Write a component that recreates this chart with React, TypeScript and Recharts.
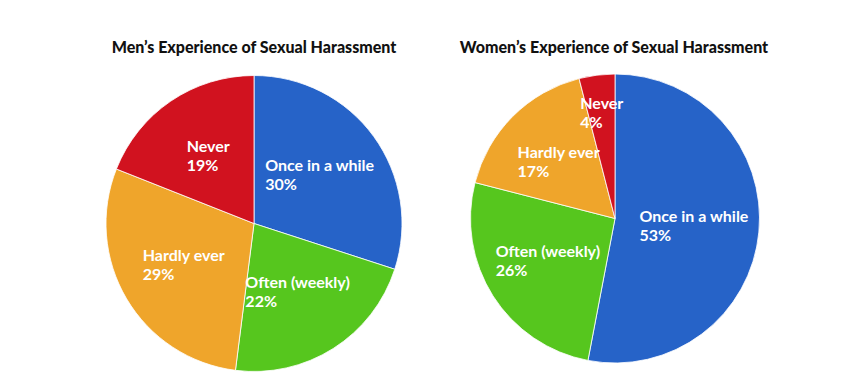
import { PieChart, Pie, Cell } from 'recharts';

const categories = ['Once in a while', 'Often (weekly)', 'Hardly ever', 'Never'];
const menValues = [30, 22, 29, 19];
const womenValues = [53, 26, 17, 4];
const colors = ['#2663c8', '#56c61e', '#efa52b', '#d1121f'];
const titles = [
  "Men’s Experience of Sexual Harassment",
  "Women’s Experience of Sexual Harassment",
];

const menData = categories.map((name, i) => ({ name, value: menValues[i] }));
const womenData = categories.map((name, i) => ({ name, value: womenValues[i] }));

const LABEL_SIZE = 16;
const LABEL_FONT = `bold ${LABEL_SIZE}px Lato`;
const RAD = Math.PI / 180;

let ctx: CanvasRenderingContext2D | null = null;
function textWidth(s: string) {
  if (!ctx) ctx = document.createElement('canvas').getContext('2d');
  if (!ctx) return s.length * 7.5;
  ctx.font = LABEL_FONT;
  return ctx.measureText(s).width;
}

function renderLabel(props: any) {
  const { cx, cy, midAngle, outerRadius, name, value } = props;
  // small slices get pushed outwards, like the original
  const r = outerRadius * (value < 10 ? 0.73 : 0.55);
  const x = cx + r * Math.cos(-midAngle * RAD);
  const y = cy + r * Math.sin(-midAngle * RAD);
  const left = x - textWidth(name) / 2;
  return (
    <text
      x={left}
      y={y - 10}
      fill='#fff'
      fontFamily='Lato'
      fontWeight={700}
      fontSize={LABEL_SIZE}
      textAnchor='start'
    >
      <tspan x={left} dy='0.35em'>{name}</tspan>
      <tspan x={left} dy={19}>{value}%</tspan>
    </text>
  );
}

const titleStyle = (left: number): React.CSSProperties => ({
  position: 'absolute',
  left,
  top: 37,
  width: 400,
  textAlign: 'center',
  fontFamily: 'Lato',
  fontWeight: 900,
  fontSize: 16,
  lineHeight: '20px',
  color: '#111',
});

export default function App() {
  return (
    <div style={{ position: 'absolute', left: 0, top: 0, width: 845, height: 385, background: '#fff' }}>
      <div style={titleStyle(254 - 200)}>{titles[0]}</div>
      <div style={titleStyle(614 - 200)}>{titles[1]}</div>
      <PieChart width={845} height={385} margin={{ top: 0, right: 0, bottom: 0, left: 0 }}>
        <Pie
          data={menData}
          dataKey='value'
          nameKey='name'
          cx={254}
          cy={223.5}
          outerRadius={148}
          startAngle={90}
          endAngle={-270}
          stroke='#fff'
          strokeWidth={0.8}
          label={renderLabel}
          labelLine={false}
          isAnimationActive={false}
        >
          {menData.map((d, i) => (
            <Cell key={d.name} fill={colors[i]} />
          ))}
        </Pie>
        <Pie
          data={womenData}
          dataKey='value'
          nameKey='name'
          cx={615}
          cy={218.5}
          outerRadius={144.5}
          startAngle={90}
          endAngle={-270}
          stroke='#fff'
          strokeWidth={0.8}
          label={renderLabel}
          labelLine={false}
          isAnimationActive={false}
        >
          {womenData.map((d, i) => (
            <Cell key={d.name} fill={colors[i]} />
          ))}
        </Pie>
      </PieChart>
    </div>
  );
}
